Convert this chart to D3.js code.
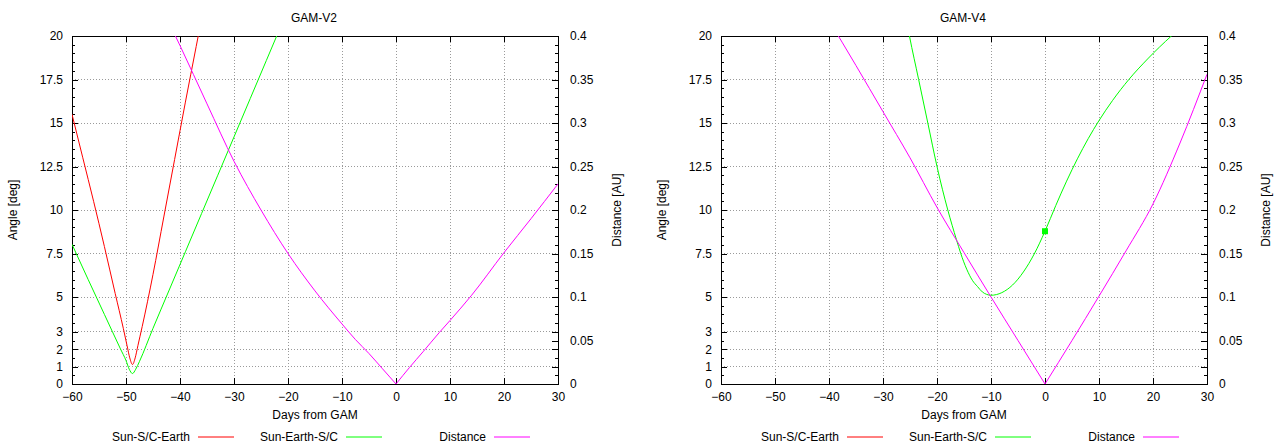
<html>
<head>
<meta charset="utf-8">
<script src="https://d3js.org/d3.v7.min.js"></script>
<style>
  body { margin: 0; background: #fff; }
  text { font-family: 'Liberation Sans', Arial, sans-serif; font-size: 12px; fill: #000; }
  .grid line { stroke: #9a9a9a; stroke-dasharray: 1,2; shape-rendering: crispEdges; }
  .tick line { stroke: #000; shape-rendering: crispEdges; }
  .frame { fill: none; stroke: #000; shape-rendering: crispEdges; }
</style>
</head>
<body>
<svg width="1283" height="448"></svg>
<script>
// ticks
const dayTicks = [-60, -50, -40, -30, -20, -10, 0, 10, 20, 30];
const angleTicks = [0, 1, 2, 3, 5, 7.5, 10, 12.5, 15, 17.5, 20];
const distTicks = [0, 0.05, 0.1, 0.15, 0.2, 0.25, 0.3, 0.35, 0.4];
const seriesNames = ['Sun-S/C-Earth', 'Sun-Earth-S/C', 'Distance'];
const seriesColors = ['#ff0000', '#00ff00', '#ff00ff'];

// GAM-V2
const v2RedDays = [-60, -58, -56, -54, -52, -50.5, -49.8, -49.3, -48.8, -48.3, -47.8, -47, -45, -43, -41, -39, -37, -35.5];
const v2RedDeg  = [15.5, 13.0, 10.5, 7.9, 5.2, 3.2, 2.2, 1.5, 1.12, 1.5, 2.2, 3.3, 6.3, 9.6, 12.9, 16.2, 19.4, 21.8];
const v2GreenDays = [-60, -57, -54, -51, -50, -49.4, -48.8, -48.2, -47.5, -45, -42, -39, -36, -33, -30, -27, -24, -21];
const v2GreenDeg  = [8.03, 6.0, 4.0, 2.0, 1.35, 0.85, 0.6, 0.85, 1.3, 3.2, 5.4, 7.6, 9.8, 12.0, 14.2, 16.4, 18.6, 20.8];
const v2DistDays = [-42, -40, -35, -30, -25, -20, -15, -10, -7.5, -5, -2.5, 0, 2.5, 5, 8, 10, 14, 20, 25, 30];
const v2DistAU   = [0.415, 0.389, 0.322, 0.256, 0.2, 0.15, 0.107, 0.069, 0.051, 0.035, 0.0175, 0, 0.019, 0.037, 0.059, 0.073, 0.102, 0.151, 0.19, 0.23];

// GAM-V4
const v4GreenDays = [-26, -25.1, -23.4, -21.7, -20, -18, -16.4, -15.6, -14.5, -13.45, -12.5, -11.6, -10.8, -10, -8, -6, -4, -2, 0, 2, 4, 6, 8, 10, 12.5, 15.5, 19, 23.4, 26];
const v4GreenDeg  = [21.5, 20, 17.5, 15, 12.5, 10, 8.3, 7.5, 6.6, 5.96, 5.6, 5.29, 5.15, 5.1, 5.25, 5.69, 6.44, 7.47, 8.78, 10.26, 11.66, 12.94, 14.1, 15.14, 16.29, 17.49, 18.68, 20, 20.7];
const v4DistDays = [-40, -35, -30, -25, -20, -15, -10, -5, 0, 5, 10, 15, 20, 25, 30];
const v4DistAU   = [0.418, 0.366, 0.313, 0.26, 0.203, 0.151, 0.1, 0.05, 0, 0.05, 0.101, 0.153, 0.207, 0.277, 0.356];
const v4MarkDay = [0];
const v4MarkDeg = [8.78];

const svg = d3.select('svg');
const plotW = 486, plotTop = 36, plotBottom = 384;

function zip(xs, ys) { return xs.map((d, i) => [d, ys[i]]); }

function panel(id, title, left, angleSeries, distDays, distAU, marks) {
  const x = d3.scaleLinear().domain([-60, 30]).range([left, left + plotW]);
  const yA = d3.scaleLinear().domain([0, 20]).range([plotBottom, plotTop]);
  const yD = d3.scaleLinear().domain([0, 0.4]).range([plotBottom, plotTop]);
  const right = left + plotW;
  const g = svg.append('g');

  g.append('clipPath').attr('id', 'clip' + id)
    .append('rect').attr('x', left).attr('y', plotTop).attr('width', plotW).attr('height', plotBottom - plotTop);

  // grid
  const grid = g.append('g').attr('class', 'grid');
  grid.selectAll('.gx').data(dayTicks.slice(1, -1)).enter().append('line')
    .attr('x1', d => x(d)).attr('x2', d => x(d)).attr('y1', plotTop).attr('y2', plotBottom);
  grid.selectAll('.gy').data(angleTicks.slice(1, -1)).enter().append('line')
    .attr('x1', left).attr('x2', right).attr('y1', d => yA(d)).attr('y2', d => yA(d));

  const minorA = d3.range(0.5, 20, 0.5).filter(v => angleTicks.indexOf(v) < 0);

  g.append('g').attr('transform', 'translate(0,' + plotBottom + ')')
    .call(d3.axisBottom(x).tickValues(dayTicks).tickSize(-6).tickPadding(8))
    .call(a => a.select('.domain').remove());
  g.append('g').attr('transform', 'translate(0,' + plotTop + ')')
    .call(d3.axisTop(x).tickValues(dayTicks).tickSize(-6).tickFormat(''))
    .call(a => a.select('.domain').remove());
  g.append('g').attr('transform', 'translate(' + left + ',0)')
    .call(d3.axisLeft(yA).tickValues(angleTicks).tickSize(-6).tickPadding(9).tickFormat(d => String(d)))
    .call(a => a.select('.domain').remove());
  g.append('g').attr('transform', 'translate(' + left + ',0)')
    .call(d3.axisLeft(yA).tickValues(minorA).tickSize(-3).tickFormat(''))
    .call(a => a.select('.domain').remove());
  g.append('g').attr('transform', 'translate(' + right + ',0)')
    .call(d3.axisRight(yD).tickValues(distTicks).tickSize(-6).tickPadding(12).tickFormat(d => String(d)))
    .call(a => a.select('.domain').remove());
  g.append('g').attr('transform', 'translate(' + right + ',0)')
    .call(d3.axisRight(yA).tickValues(angleTicks).tickSize(-6).tickFormat(''))
    .call(a => a.select('.domain').remove());
  g.append('g').attr('transform', 'translate(' + right + ',0)')
    .call(d3.axisRight(yA).tickValues(minorA).tickSize(-3).tickFormat(''))
    .call(a => a.select('.domain').remove());
  g.selectAll('.tick text').style('font-family', "'Liberation Sans', Arial, sans-serif").style('font-size', '12px').attr('fill', '#000');

  g.append('rect').attr('class', 'frame')
    .attr('x', left).attr('y', plotTop).attr('width', plotW).attr('height', plotBottom - plotTop);

  // series
  const lines = g.append('g').attr('clip-path', 'url(#clip' + id + ')');
  const lineA = d3.line().x(d => x(d[0])).y(d => yA(d[1])).curve(d3.curveMonotoneX);
  const lineD = d3.line().x(d => x(d[0])).y(d => yD(d[1])).curve(d3.curveMonotoneX);
  angleSeries.forEach(s => {
    lines.append('path').datum(zip(s.days, s.vals))
      .attr('d', lineA).attr('fill', 'none').attr('stroke', s.color).attr('stroke-width', 1);
  });
  // distance: two branches meeting at the sharp minimum
  const dist = zip(distDays, distAU);
  const iMin = d3.minIndex(distAU);
  [dist.slice(0, iMin + 1), dist.slice(iMin)].forEach(part => {
    lines.append('path').datum(part)
      .attr('d', lineD).attr('fill', 'none').attr('stroke', seriesColors[2]).attr('stroke-width', 1);
  });
  if (marks) {
    lines.selectAll('.mark').data(zip(marks.days, marks.vals)).enter().append('rect')
      .attr('x', d => x(d[0]) - 3).attr('y', d => yA(d[1]) - 3)
      .attr('width', 6).attr('height', 6).attr('fill', seriesColors[1]);
  }

  // labels
  g.append('text').attr('x', left + plotW / 2 - 1).attr('y', 22).attr('text-anchor', 'middle').text(title);
  g.append('text').attr('x', left + plotW / 2).attr('y', 419).attr('text-anchor', 'middle').text('Days from GAM');
  g.append('text').attr('transform', 'translate(' + (left - 59) + ',' + ((plotTop + plotBottom) / 2) + ') rotate(-90)')
    .attr('text-anchor', 'middle').attr('dy', '0.35em').text('Angle [deg]');
  g.append('text').attr('transform', 'translate(' + (right + 59) + ',' + ((plotTop + plotBottom) / 2) + ') rotate(-90)')
    .attr('text-anchor', 'middle').attr('dy', '0.35em').text('Distance [AU]');

  // legend
  seriesNames.forEach((name, i) => {
    const tx = left + 118 + i * 148;
    g.append('text').attr('x', tx).attr('y', 441).attr('text-anchor', 'end').text(name);
    g.append('line').attr('x1', tx + 8).attr('x2', tx + 44).attr('y1', 437).attr('y2', 437)
      .attr('stroke', seriesColors[i]).attr('stroke-width', 1);
  });
}

panel('a', 'GAM-V2', 72, [
  { days: v2RedDays, vals: v2RedDeg, color: seriesColors[0] },
  { days: v2GreenDays, vals: v2GreenDeg, color: seriesColors[1] }
], v2DistDays, v2DistAU, null);

panel('b', 'GAM-V4', 721, [
  { days: v4GreenDays, vals: v4GreenDeg, color: seriesColors[1] }
], v4DistDays, v4DistAU, { days: v4MarkDay, vals: v4MarkDeg });
</script>
</body>
</html>
